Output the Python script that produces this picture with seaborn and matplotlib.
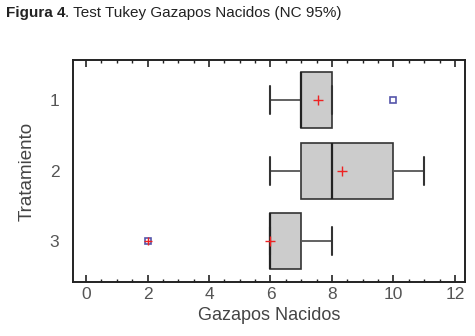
import pandas as pd
import numpy as np
import matplotlib
matplotlib.use("Agg")
import matplotlib.pyplot as plt
from matplotlib.ticker import MultipleLocator
import seaborn as sns

# datos (Gazapos nacidos por tratamiento)
tratamientos = ["1", "2", "3"]
gazapos_t1 = [6, 7, 7, 7, 7, 8, 8, 8, 10]
gazapos_t2 = [6, 7, 7, 8, 8, 8, 10, 10, 11]
gazapos_t3 = [2, 6, 6, 6, 7, 7, 8]

df = pd.DataFrame({
    "Gazapos Nacidos": gazapos_t1 + gazapos_t2 + gazapos_t3,
    "Tratamiento": ["1"] * len(gazapos_t1) + ["2"] * len(gazapos_t2) + ["3"] * len(gazapos_t3),
})

sns.set_style("white")
plt.rcParams["font.family"] = ["Liberation Sans", "DejaVu Sans"]

fig = plt.figure(figsize=(4.75, 3.36), dpi=100)
ax = fig.add_axes([0.154, 0.161, 0.825, 0.66])

sns.boxplot(
    data=df, x="Gazapos Nacidos", y="Tratamiento", order=tratamientos, orient="h",
    color="#cccccc", linecolor="#333333", linewidth=1.2, width=0.8, saturation=1,
    showmeans=True, ax=ax,
    meanprops=dict(marker="+", markeredgecolor="#ee2222", markersize=7, markeredgewidth=1),
    flierprops=dict(marker="s", markerfacecolor="white", markeredgecolor="#5555aa",
                    markersize=5, markeredgewidth=1.2),
    medianprops=dict(color="#222222", linewidth=1.6),
    whiskerprops=dict(color="#555555", linewidth=1.3),
    capprops=dict(color="#333333", linewidth=1.5),
)

# valores atipicos lejanos (mas de 3 RIC) se marcan con un signo +
for i, t in enumerate(tratamientos):
    v = df.loc[df["Tratamiento"] == t, "Gazapos Nacidos"]
    q1, q3 = v.quantile(0.25), v.quantile(0.75)
    ric = q3 - q1
    lejos = v[(v < q1 - 3 * ric) | (v > q3 + 3 * ric)]
    ax.plot(lejos, [i] * len(lejos), linestyle="none", marker="+",
            markeredgecolor="#ee2222", markersize=6, markeredgewidth=1)

ax.set_xlim(-0.42, 12.33)
ax.set_ylim(2.58, -0.57)
ax.xaxis.set_major_locator(MultipleLocator(2))
ax.xaxis.set_minor_locator(MultipleLocator(0.5))
ax.tick_params(axis="x", which="both", direction="in", top=True, bottom=True,
               colors="#222222", labelcolor="#555555", labelsize=12.5)
ax.tick_params(axis="x", which="major", length=5, width=1.2)
ax.tick_params(axis="x", which="minor", length=2.5, width=1)
ax.tick_params(axis="y", length=0, pad=10, labelcolor="#555555", labelsize=12.5)

for s in ax.spines.values():
    s.set_color("#222222")
    s.set_linewidth(1.4)

ax.set_xlabel("Gazapos Nacidos", fontsize=13, color="#444444", labelpad=4)
ax.set_ylabel("Tratamiento", fontsize=13.5, color="#444444", labelpad=10)

# titulo: parte en negrita y resto normal, uno a continuacion del otro
t1 = fig.text(0.012, 0.962, "Figura 4", fontsize=11, fontweight="bold", color="#222222",
              va="center")
fig.canvas.draw()
bb = t1.get_window_extent()
fig.text(bb.x1 / fig.bbox.width, 0.962, ". Test Tukey Gazapos Nacidos (NC 95%)",
         fontsize=11, color="#222222", va="center")

fig.savefig("out.png", dpi=100)
plt.close(fig)
